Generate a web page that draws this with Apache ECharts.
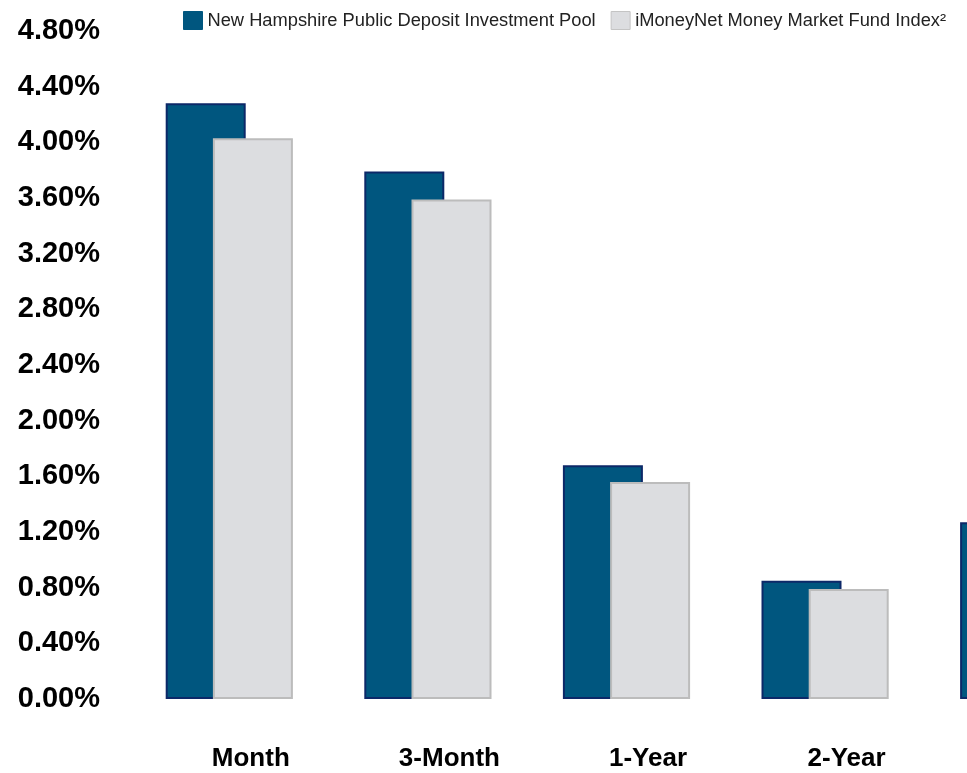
<!DOCTYPE html>
<html>
<head>
<meta charset="utf-8">
<script src="https://cdn.jsdelivr.net/npm/echarts@6/dist/echarts.min.js"></script>
<style>
  html, body { margin: 0; padding: 0; background: #fff; overflow: hidden; }
  #chart { width: 1200px; height: 773px; }
</style>
</head>
<body>
<div id="chart"></div>
<script>
// periods (the last one is cut off at the right edge)
const categories = ["Month", "3-Month", "1-Year", "2-Year", "5-Year"];
const poolValues = [4.28, 3.79, 1.68, 0.85, 1.27];
const indexValues = [4.03, 3.59, 1.56, 0.79, 1.20];
const seriesNames = ["New Hampshire Public Deposit Investment Pool", "iMoneyNet Money Market Fund Index\u00b2"];

const chart = echarts.init(document.getElementById("chart"));

const option = {
  animation: false,
  legend: {
    top: 6,
    left: 178,
    itemWidth: 19,
    itemHeight: 18,
    itemGap: 15,
    icon: "rect",
    textStyle: {
      fontFamily: "Liberation Sans, Arial",
      fontSize: 18.3,
      color: "#222"
    },
    data: [
      { name: seriesNames[0], itemStyle: { borderColor: "#00567f", borderWidth: 1 } },
      { name: seriesNames[1], itemStyle: { borderColor: "#c4c4c4", borderWidth: 1 } }
    ]
  },
  grid: {
    left: 130,
    right: 77,
    top: 31,
    bottom: 74
  },
  xAxis: {
    type: "category",
    data: categories,
    axisLine: { show: false },
    axisTick: { show: false },
    splitLine: { show: false },
    axisLabel: {
      margin: 47,
      fontFamily: "Liberation Sans, Arial",
      fontWeight: "bold",
      fontSize: 26,
      color: "#000",
      padding: [0, 0, 0, 43]
    }
  },
  yAxis: {
    type: "value",
    min: 0,
    max: 4.8,
    interval: 0.4,
    axisLine: { show: false },
    axisTick: { show: false },
    splitLine: { show: false },
    axisLabel: {
      margin: 30,
      fontFamily: "Liberation Sans, Arial",
      fontWeight: "bold",
      fontSize: 29,
      color: "#000",
      formatter: v => v.toFixed(2) + "%"
    }
  },
  series: [
    {
      name: seriesNames[0],
      type: "bar",
      barWidth: 80,
      barGap: "-41%",
      data: poolValues,
      itemStyle: {
        color: "#00567f",
        borderColor: "#0c2868",
        borderWidth: 2
      }
    },
    {
      name: seriesNames[1],
      type: "bar",
      barWidth: 80,
      data: indexValues,
      itemStyle: {
        color: "#dcdde0",
        borderColor: "#bcbcbc",
        borderWidth: 2
      }
    }
  ]
};

chart.setOption(option);
</script>
</body>
</html>
